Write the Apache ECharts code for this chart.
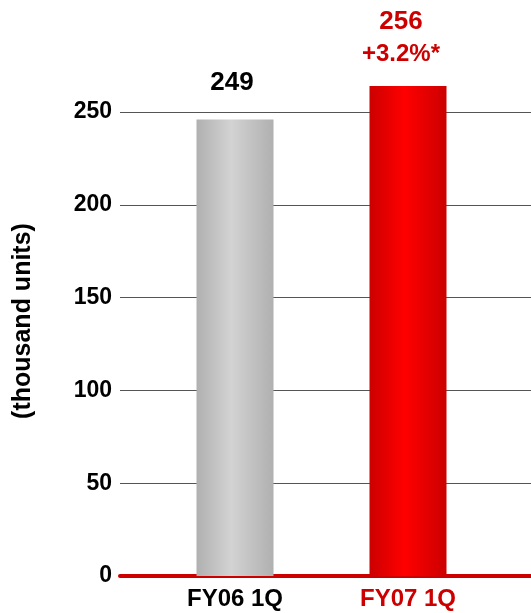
<!DOCTYPE html>
<html>
<head>
<meta charset="utf-8">
<script src="https://cdn.jsdelivr.net/npm/echarts@6/dist/echarts.min.js"></script>
<style>html,body{margin:0;padding:0;background:#fff;}#c{width:531px;height:613px;}</style>
</head>
<body>
<div id="c"></div>
<script>
const categories = ['FY06 1Q', 'FY07 1Q'];
const barValues = [246, 264];
const valueLabels = ['249', '256'];
const changeLabels = ['', '+3.2%*'];
const yTicks = [0, 50, 100, 150, 200, 250];
const yAxisTitle = '(thousand units)';

const FONT = '"Liberation Sans", Arial, sans-serif';
const catColors = ['#000000', '#cc0000'];
const barGradients = [
  ['#b0b0b0', '#d3d3d3', '#b0b0b0'],
  ['#cc0000', '#ff0000', '#cc0000']
];
const labelOffsets = [[-3, 0], [-7, 0]];

function grad(c) {
  return new echarts.graphic.LinearGradient(0, 0, 1, 0, [
    {offset: 0, color: c[0]}, {offset: 0.45, color: c[1]}, {offset: 1, color: c[2]}
  ]);
}

const data = barValues.map((v, i) => ({
  value: v,
  itemStyle: {color: grad(barGradients[i])},
  label: {
    show: true,
    position: 'top',
    offset: labelOffsets[i],
    distance: changeLabels[i] ? 16 : 24,
    formatter: changeLabels[i] ? '{a|' + valueLabels[i] + '}\n{b|' + changeLabels[i] + '}' : '{c|' + valueLabels[i] + '}',
    rich: {
      a: {fontFamily: FONT, fontWeight: 'bold', fontSize: 26, color: catColors[i], lineHeight: 32, align: 'center'},
      b: {fontFamily: FONT, fontWeight: 'bold', fontSize: 24, color: catColors[i], lineHeight: 32, align: 'center'},
      c: {fontFamily: FONT, fontWeight: 'bold', fontSize: 26, color: catColors[i], lineHeight: 26, align: 'center'}
    }
  }
}));

const chart = echarts.init(document.getElementById('c'), null, {renderer: 'canvas'});
chart.setOption({
  animation: false,
  backgroundColor: '#ffffff',
  grid: [
    {left: 120, right: 0, top: 112, bottom: 37},
    {left: 148.5, right: 36.5, top: 112, bottom: 37}
  ],
  xAxis: [
    {type: 'category', gridIndex: 0, data: [''],
     axisLine: {show: true, lineStyle: {color: '#cc0000', width: 4}},
     axisTick: {show: false}, axisLabel: {show: false}, splitLine: {show: false}},
    {type: 'category', gridIndex: 1, data: categories.map((c, i) => ({value: c, textStyle: {color: catColors[i]}})),
     axisLine: {show: false}, axisTick: {show: false},
     axisLabel: {margin: 11, fontFamily: FONT, fontWeight: 'bold', fontSize: 24}}
  ],
  yAxis: [
    {type: 'value', gridIndex: 0, min: yTicks[0], max: yTicks[yTicks.length - 1], interval: yTicks[1] - yTicks[0],
     axisLine: {show: false}, axisTick: {show: false},
     axisLabel: {margin: 8, color: '#000', fontFamily: FONT, fontWeight: 'bold', fontSize: 23},
     splitLine: {show: true, lineStyle: {color: '#555555', width: 1}}},
    {type: 'value', gridIndex: 1, min: yTicks[0], max: yTicks[yTicks.length - 1], interval: yTicks[1] - yTicks[0],
     show: false, splitLine: {show: false}}
  ],
  graphic: [{
    type: 'text', x: 23, y: 321, rotation: Math.PI / 2,
    style: {text: yAxisTitle, fill: '#000', font: 'bold 25px ' + FONT, textAlign: 'center', textVerticalAlign: 'middle'}
  }],
  series: [{
    type: 'bar', xAxisIndex: 1, yAxisIndex: 1, barWidth: 77, clip: false, z: 5,
    data: data
  }]
});
</script>
</body>
</html>
